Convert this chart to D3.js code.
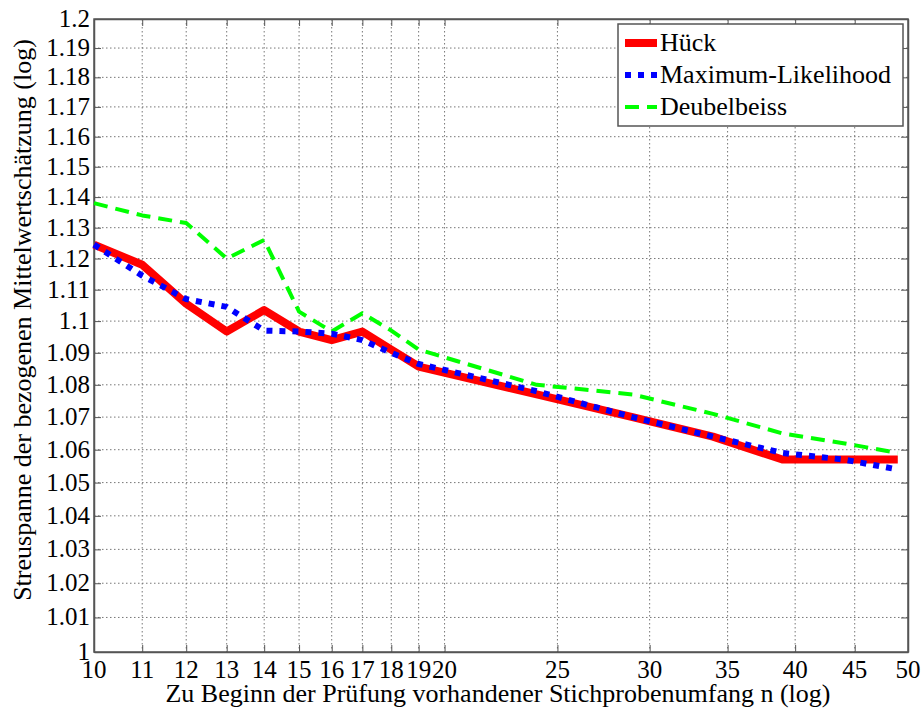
<!DOCTYPE html>
<html>
<head>
<meta charset="utf-8">
<script src="https://cdn.jsdelivr.net/npm/d3@7"></script>
</head>
<body style="margin:0">
<svg id="chart" width="922" height="710" font-family="Liberation Serif" style="font-family: 'Liberation Serif'"></svg>
<script>
// sample sizes n (x) and the three estimates (y)
const nValues = [10, 11, 12, 13, 14, 15, 16, 17, 18, 19, 24, 29, 34, 39, 44, 49];
const hueck = [1.1245, 1.118, 1.1055, 1.0967, 1.1035, 1.0967, 1.094, 1.0967, 1.091, 1.0857, 1.077, 1.070, 1.064, 1.057, 1.057, 1.057];
const maxLik = [1.1245, 1.1145, 1.107, 1.1045, 1.097, 1.0967, 1.096, 1.094, 1.090, 1.0865, 1.078, 1.070, 1.064, 1.059, 1.057, 1.054];
const deubel = [1.138, 1.134, 1.1315, 1.120, 1.126, 1.103, 1.0967, 1.1025, 1.097, 1.091, 1.080, 1.077, 1.071, 1.065, 1.062, 1.059];

const xTicks = [10, 11, 12, 13, 14, 15, 16, 17, 18, 19, 20, 25, 30, 35, 40, 45, 50];
const yTicks = [1, 1.01, 1.02, 1.03, 1.04, 1.05, 1.06, 1.07, 1.08, 1.09, 1.1,
                1.11, 1.12, 1.13, 1.14, 1.15, 1.16, 1.17, 1.18, 1.19, 1.2];

const seriesNames = ["Hück", "Maximum-Likelihood", "Deubelbeiss"];

const FONT = "Liberation Serif";

const margin = {left: 94, top: 19, right: 14, bottom: 58};
const width = 922 - margin.left - margin.right;
const height = 710 - margin.top - margin.bottom;

const svg = d3.select("#chart");
const g = svg.append("g").attr("transform", `translate(${margin.left},${margin.top})`);

const x = d3.scaleLog().domain([10, 50]).range([0, width]);
const y = d3.scaleLog().domain([1, 1.2]).range([height, 0]);

// grid
g.append("g").selectAll("line")
  .data(xTicks.slice(1, -1))
  .join("line")
  .attr("x1", d => x(d)).attr("x2", d => x(d))
  .attr("y1", 0).attr("y2", height)
  .attr("stroke", "#777").attr("stroke-width", 1)
  .attr("stroke-dasharray", "1.5,2.5");

g.append("g").selectAll("line")
  .data(yTicks.slice(1, -1))
  .join("line")
  .attr("y1", d => y(d)).attr("y2", d => y(d))
  .attr("x1", 0).attr("x2", width)
  .attr("stroke", "#777").attr("stroke-width", 1)
  .attr("stroke-dasharray", "1.5,2.5");

// tick labels from the scales
g.append("g").selectAll("text")
  .data(xTicks)
  .join("text")
  .attr("x", d => x(d)).attr("y", height + 26)
  .attr("text-anchor", "middle")
  .attr("font-family", FONT)
  .attr("font-size", 25)
  .text(d => String(d));

g.append("g").selectAll("text")
  .data(yTicks)
  .join("text")
  .attr("x", -4).attr("y", d => y(d) + 8)
  .attr("text-anchor", "end")
  .attr("font-family", FONT)
  .attr("font-size", 25)
  .text(d => String(d));

// inward ticks on all four sides (MATLAB style box)
g.append("g").attr("transform", `translate(0,${height})`)
  .call(d3.axisBottom(x).tickValues(xTicks).tickFormat("").tickSizeInner(-7).tickSizeOuter(0));
g.append("g")
  .call(d3.axisLeft(y).tickValues(yTicks).tickFormat("").tickSizeInner(-7).tickSizeOuter(0));
g.append("g")
  .call(d3.axisTop(x).tickValues(xTicks).tickFormat("").tickSizeInner(-7).tickSizeOuter(0));
g.append("g").attr("transform", `translate(${width},0)`)
  .call(d3.axisRight(y).tickValues(yTicks).tickFormat("").tickSizeInner(-7).tickSizeOuter(0));

g.selectAll(".domain").attr("stroke", "#555").attr("stroke-width", 1.5);
g.selectAll(".tick line").attr("stroke", "#555");

g.append("rect").attr("width", width).attr("height", height)
  .attr("fill", "none").attr("stroke", "#555").attr("stroke-width", 1.5);

// series
const styles = [
  {data: hueck, color: "#ff0000", width: 8, dash: null},
  {data: maxLik, color: "#0000ff", width: 6, dash: "6,7"},
  {data: deubel, color: "#00ff00", width: 4, dash: "14,8"}
];

const line = d3.line().x(d => x(d[0])).y(d => y(d[1]));

// draw order: green, red, blue on top
[2, 0, 1].forEach(i => {
  const s = styles[i];
  g.append("path")
    .datum(nValues.map((n, k) => [n, s.data[k]]))
    .attr("d", line)
    .attr("fill", "none")
    .attr("stroke", s.color)
    .attr("stroke-width", s.width)
    .attr("stroke-linejoin", "round")
    .attr("stroke-dasharray", s.dash);
});

// legend
const lg = svg.append("g").attr("transform", "translate(618,24)");
lg.append("rect").attr("width", 285).attr("height", 102)
  .attr("fill", "#fff").attr("stroke", "#555").attr("stroke-width", 1.5);
seriesNames.forEach((name, i) => {
  const s = styles[i];
  const yy = 19 + i * 32;
  lg.append("line").attr("x1", 7).attr("x2", 39).attr("y1", yy).attr("y2", yy)
    .attr("stroke", s.color).attr("stroke-width", s.width)
    .attr("stroke-dasharray", s.dash);
  lg.append("text").attr("x", 42).attr("y", yy + 8)
    .attr("font-family", FONT).attr("font-size", 26).text(name);
});

// axis labels
svg.append("text")
  .attr("x", margin.left + width / 2 - 3).attr("y", 702)
  .attr("text-anchor", "middle").attr("font-family", FONT).attr("font-size", 26)
  .text("Zu Beginn der Prüfung vorhandener Stichprobenumfang n (log)");

svg.append("text")
  .attr("transform", "translate(31,320) rotate(-90)")
  .attr("text-anchor", "middle").attr("font-family", FONT).attr("font-size", 26)
  .text("Streuspanne der bezogenen Mittelwertschätzung (log)");
</script>
</body>
</html>
